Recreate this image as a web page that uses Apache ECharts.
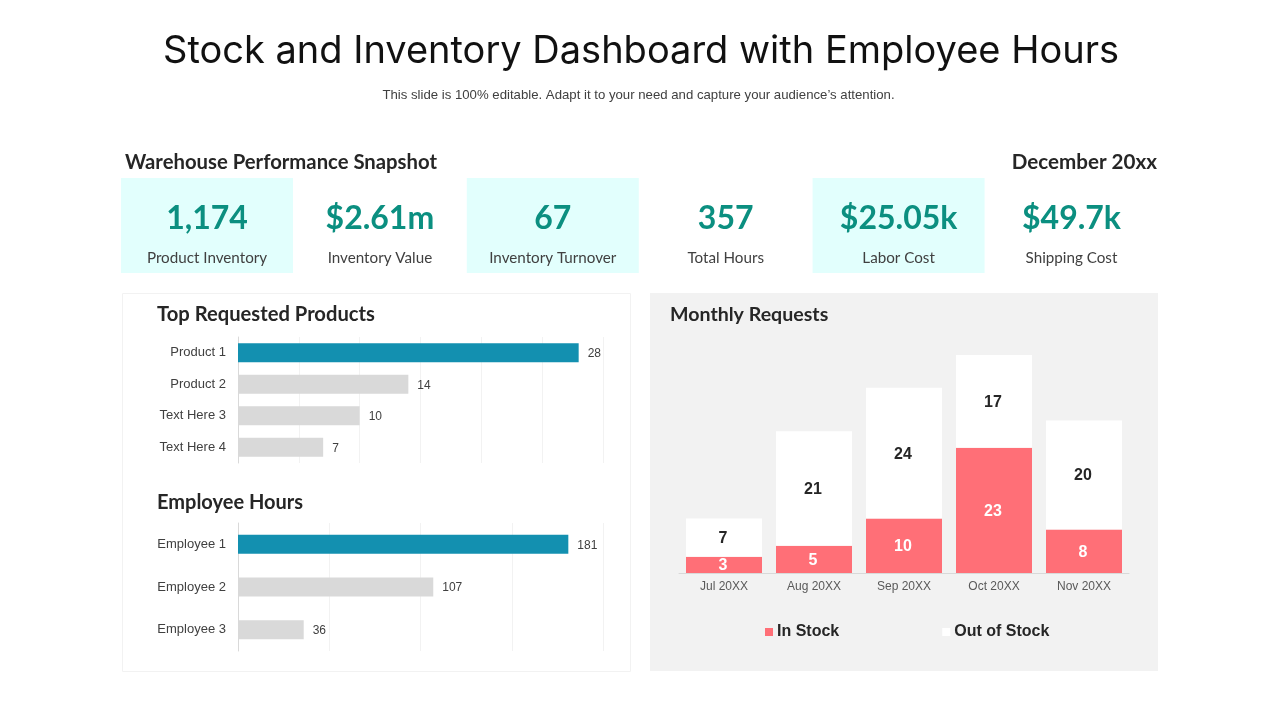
<!DOCTYPE html>
<html>
<head>
<meta charset="utf-8">
<title>Stock and Inventory Dashboard</title>
<style>
html, body { margin: 0; padding: 0; background: #fff; }
#chart { width: 1280px; height: 720px; }
</style>
<script src="https://cdn.jsdelivr.net/npm/echarts@6/dist/echarts.min.js"></script>
</head>
<body>
<div id="chart"></div>
<script>
var kpiValues = ['1,174', '$2.61m', '67', '357', '$25.05k', '$49.7k'];
var kpiLabels = ['Product Inventory', 'Inventory Value', 'Inventory Turnover', 'Total Hours', 'Labor Cost', 'Shipping Cost'];

var productNames = ['Product 1', 'Product 2', 'Text Here 3', 'Text Here 4'];
var productValues = [28, 14, 10, 7];

var employeeNames = ['Employee 1', 'Employee 2', 'Employee 3'];
var employeeValues = [181, 107, 36];

var months = ['Jul 20XX', 'Aug 20XX', 'Sep 20XX', 'Oct 20XX', 'Nov 20XX'];
var inStock = [3, 5, 10, 23, 8];
var outOfStock = [7, 21, 24, 17, 20];

var headFont = 'Lato';
var bodyFont = 'Liberation Sans';

function panelRect(x, y, w, h, fill, stroke){
    return {
        type: 'rect',
        z: -10,
        shape: {x: x, y: y, width: w, height: h},
        style: {fill: fill, stroke: stroke || null, lineWidth: 1}
    };
}

function label(text, x, y, size, color, weight, align, font){
    return {
        type: 'text',
        x: x,
        y: y,
        style: {
            text: text,
            fill: color,
            font: (weight || 'normal') + ' ' + size + 'px "' + (font || headFont) + '"',
            align: align || 'left',
            verticalAlign: 'middle'
        }
    };
}

function buildGraphic(){
    var items = [
        panelRect(122.5, 293.5, 508, 378, '#fff', '#F2F2F2'),
        panelRect(650, 293, 508, 378, '#F2F2F2'),
        label('Stock and Inventory Dashboard with Employee Hours', 641, 52, 38, '#111', 'normal', 'center', 'Inter'),
        label('This slide is 100% editable. Adapt it to your need and capture your audience\u2019s attention.', 638.5, 95, 13.2, '#404040', 'normal', 'center', bodyFont),
        label('Warehouse Performance Snapshot', 125, 162, 20.3, '#262626', 'bold', 'left'),
        label('December 20xx', 1157, 162, 20.6, '#262626', 'bold', 'right'),
        label('Top Requested Products', 157, 314, 20.2, '#262626', 'bold', 'left'),
        label('Employee Hours', 157, 503, 20, '#262626', 'bold', 'left'),
        label('Monthly Requests', 670, 315, 19.6, '#262626', 'bold', 'left')
    ];
    kpiValues.forEach(function(value, i){
        var left = 121 + i * 172.9;
        var center = left + 86;
        if(i % 2 === 0){
            items.push(panelRect(left, 178, 172, 95, '#E2FFFD'));
        }
        items.push(label(value, center, 219, 32, '#0B8F80', 'bold', 'center'));
        items.push(label(kpiLabels[i], center, 258, 15.2, '#404040', 'normal', 'center'));
    });
    return items;
}

function firstBarColor(params){
    return params.dataIndex === 0 ? '#1390B0' : '#D9D9D9';
}

function hBarSeries(gridIndex, values){
    return {
        type: 'bar',
        xAxisIndex: gridIndex,
        yAxisIndex: gridIndex,
        data: values,
        barWidth: 19,
        itemStyle: {color: firstBarColor},
        silent: true,
        label: {
            show: true,
            position: 'right',
            distance: 9,
            offset: [0, 1],
            color: '#404040',
            fontFamily: bodyFont,
            fontSize: 12
        }
    };
}

function hValueAxis(gridIndex, max, interval){
    return {
        type: 'value',
        gridIndex: gridIndex,
        min: 0,
        max: max,
        interval: interval,
        axisLabel: {show: false},
        axisLine: {show: false},
        axisTick: {show: false},
        splitLine: {lineStyle: {color: '#F2F2F2', width: 1}}
    };
}

function hCategoryAxis(gridIndex, names){
    return {
        type: 'category',
        gridIndex: gridIndex,
        inverse: true,
        data: names,
        axisTick: {show: false},
        axisLine: {lineStyle: {color: '#D9D9D9', width: 1}},
        axisLabel: {
            margin: 12,
            color: '#404040',
            fontFamily: bodyFont,
            fontSize: 13
        }
    };
}

var chart = echarts.init(document.getElementById('chart'));

chart.setOption({
    animation: false,
    backgroundColor: '#fff',
    graphic: buildGraphic(),
    legend: {
        left: 760,
        top: 619,
        itemWidth: 8,
        itemHeight: 8,
        itemGap: 103,
        icon: 'rect',
        selectedMode: false,
        data: ['In Stock', 'Out of Stock'],
        textStyle: {
            color: '#262626',
            fontFamily: bodyFont,
            fontSize: 16,
            fontWeight: 'bold',
            padding: [0, 0, 0, -1]
        }
    },
    grid: [
        {left: 238, top: 337, width: 365, height: 126},
        {left: 238, top: 523, width: 365, height: 128},
        {left: 679, top: 355, width: 450, height: 218}
    ],
    xAxis: [
        hValueAxis(0, 30, 5),
        hValueAxis(1, 200, 50),
        {
            type: 'category',
            gridIndex: 2,
            data: months,
            axisTick: {show: false},
            axisLine: {lineStyle: {color: '#D9D9D9', width: 1}},
            axisLabel: {
                margin: 8,
                color: '#595959',
                fontFamily: bodyFont,
                fontSize: 12
            }
        }
    ],
    yAxis: [
        hCategoryAxis(0, productNames),
        hCategoryAxis(1, employeeNames),
        {type: 'value', gridIndex: 2, min: 0, max: 40, show: false}
    ],
    series: [
        hBarSeries(0, productValues),
        hBarSeries(1, employeeValues),
        {
            name: 'In Stock',
            type: 'bar',
            stack: 'requests',
            xAxisIndex: 2,
            yAxisIndex: 2,
            data: inStock,
            barWidth: 76,
            itemStyle: {color: '#FF6F77'},
            label: {show: true, position: 'inside', offset: [-1, 1], color: '#fff', fontFamily: bodyFont, fontSize: 16, fontWeight: 'bold'}
        },
        {
            name: 'Out of Stock',
            type: 'bar',
            stack: 'requests',
            xAxisIndex: 2,
            yAxisIndex: 2,
            data: outOfStock,
            barWidth: 76,
            itemStyle: {color: '#fff'},
            label: {show: true, position: 'inside', offset: [-1, 1], color: '#262626', fontFamily: bodyFont, fontSize: 16, fontWeight: 'bold'}
        }
    ]
});
</script>
</body>
</html>
